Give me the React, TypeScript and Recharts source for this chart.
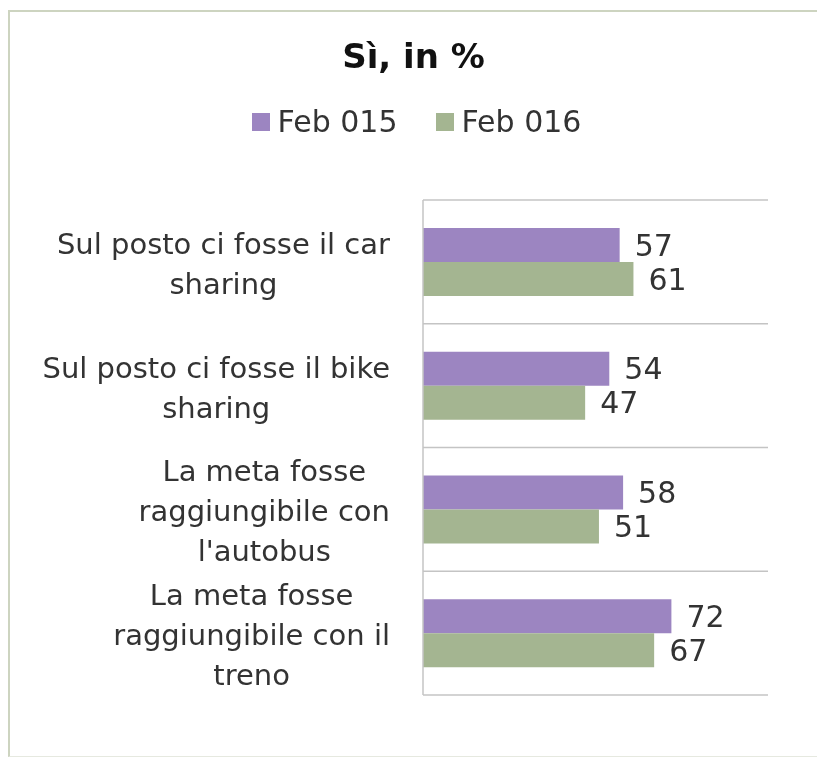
import React from "react";
import { BarChart, Bar, XAxis, YAxis, CartesianGrid, Legend, LabelList } from "recharts";

const categoryLines: string[][] = [
  ["Sul posto ci fosse il car", "sharing"],
  ["Sul posto ci fosse il bike", "sharing"],
  ["La meta fosse", "raggiungibile con", "l'autobus"],
  ["La meta fosse", "raggiungibile con il", "treno"],
];
const feb015: number[] = [57, 54, 58, 72];
const feb016: number[] = [61, 47, 51, 67];
const seriesNames = ["Feb 015", "Feb 016"];
const colors = ["#9c85c1", "#a4b591"];
const title = "Sì, in %";

const FONT = '"DejaVu Sans", sans-serif';
const TEXT = "#333333";

const data = categoryLines.map((lines, i) => ({
  name: lines.join(" "),
  f15: feb015[i],
  f16: feb016[i],
}));

let ctx: CanvasRenderingContext2D | null = null;
function measure(s: string, size: number): number {
  if (!ctx) ctx = document.createElement("canvas").getContext("2d");
  if (!ctx) return s.length * size * 0.55;
  ctx.font = `${size}px "DejaVu Sans"`;
  return ctx.measureText(s).width;
}

const CatTick = (props: any) => {
  const { x, y, payload } = props;
  const idx = data.findIndex((d) => d.name === payload.value);
  const lines = categoryLines[idx] || [String(payload.value)];
  const size = 29;
  const maxW = Math.max(...lines.map((l) => measure(l, size)));
  const right = x - 33;
  const cx = right - maxW / 2;
  const lh = 40;
  const n = lines.length;
  return (
    <g>
      {lines.map((l, i) => (
        <text
          key={i}
          x={cx}
          y={y + (i - (n - 1) / 2) * lh + 2}
          textAnchor="middle"
          dominantBaseline="central"
          fontSize={size}
          fontFamily={FONT}
          fill={TEXT}
        >
          {l}
        </text>
      ))}
    </g>
  );
};

const LegendContent = () => (
  <div
    style={{
      display: "flex",
      justifyContent: "center",
      alignItems: "center",
      fontFamily: FONT,
      fontSize: 30,
      color: TEXT,
    }}
  >
    {seriesNames.map((s, i) => (
      <div key={s} style={{ display: "flex", alignItems: "center", marginLeft: i ? 38 : 0 }}>
        <div style={{ width: 18, height: 18, background: colors[i], marginRight: 8 }} />
        <span>{s}</span>
      </div>
    ))}
  </div>
);

export default function App() {
  return (
    <div style={{ position: "relative", width: 801, height: 741, background: "#fff" }}>
      <div
        style={{
          position: "fixed",
          top: 10,
          left: 8,
          right: 0,
          bottom: 0,
          borderTop: "2px solid #cdd4c0",
          borderLeft: "2px solid #cdd4c0",
          borderBottom: "1px solid #e6e9e0",
          boxSizing: "border-box",
          pointerEvents: "none",
        }}
      />
      <div
        style={{
          position: "absolute",
          top: 28,
          left: 0,
          width: 811,
          textAlign: "center",
          fontFamily: FONT,
          fontWeight: "bold",
          fontSize: 34,
          color: "#111",
        }}
      >
        {title}
      </div>
      <div style={{ position: "absolute", top: 0, left: 0 }}>
        <BarChart
          width={801}
          height={741}
          data={data}
          layout="vertical"
          margin={{ top: 192, right: 41, bottom: 54, left: 0 }}
          barGap={0}
          barSize={34}
        >
          <CartesianGrid
            vertical={false}
            stroke="#c4c4c4"
            strokeWidth={1.5}
            horizontalCoordinatesGenerator={({ offset }: any) =>
              [0, 1, 2, 3, 4].map((i) => offset.top + (i * offset.height) / 4)
            }
          />
          <XAxis type="number" domain={[0, 100]} hide />
          <YAxis
            type="category"
            dataKey="name"
            width={415}
            tickLine={false}
            tickSize={0}
            tickMargin={0}
            axisLine={{ stroke: "#c4c4c4", strokeWidth: 1.5 }}
            tick={<CatTick />}
            interval={0}
          />
          <Legend
            layout="horizontal"
            verticalAlign="middle"
            content={<LegendContent />}
            wrapperStyle={{ position: "absolute", top: 96, left: 8, width: 801 }}
          />
          <Bar dataKey="f15" name={seriesNames[0]} fill={colors[0]} isAnimationActive={false}>
            <LabelList dataKey="f15" position="right" offset={15} fontSize={30} fontFamily={FONT} fill={TEXT} />
          </Bar>
          <Bar dataKey="f16" name={seriesNames[1]} fill={colors[1]} isAnimationActive={false}>
            <LabelList dataKey="f16" position="right" offset={15} fontSize={30} fontFamily={FONT} fill={TEXT} />
          </Bar>
        </BarChart>
      </div>
    </div>
  );
}
